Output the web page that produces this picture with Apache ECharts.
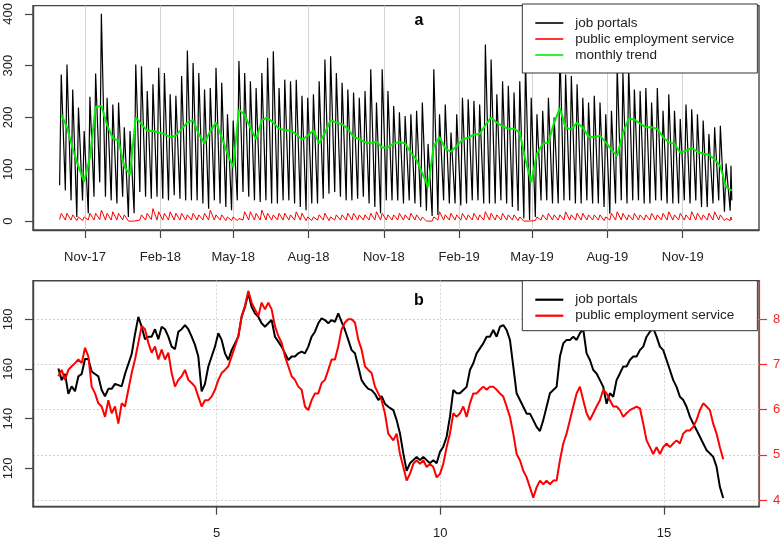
<!DOCTYPE html>
<html><head><meta charset="utf-8">
<script src="https://cdn.jsdelivr.net/npm/echarts@6/dist/echarts.min.js"></script>
<style>html,body{margin:0;padding:0;background:#fff}#c{width:784px;height:540px}</style>
</head><body><div id="c"></div>
<script>
// ---------- Panel a: daily postings (weekly peaks / troughs) ----------
const startDate = '2017-10-01';   // day 0 (a Sunday)
const endDay = 821;               // 2019-12-31
const tickDates = ['2017-11-01','2018-02-01','2018-05-01','2018-08-01','2018-11-01','2019-02-01','2019-05-01','2019-08-01','2019-11-01'];
const tickLabels = ['Nov-17','Feb-18','May-18','Aug-18','Nov-18','Feb-19','May-19','Aug-19','Nov-19'];
const yTicksA = [0,100,200,300,400];

const jobPeaks = [283,302,254,219,174,240,285,400,238,225, 229,181,174,302,299,251,264,296,286,245,
  242,280,329,305,286,254,257,296,267,206, 194,309,286,270,257,286,315,328,257,273,
  270,273,242,238,245,270,312,318,286,267, 254,248,238,251,293,229,293,251,222,210,
  203,206,213,229,149,293,206,225,171,206, 238,235,232,225,341,312,245,270,261,248,
  270,310,238,206,213,238,200,330,283,280, 264,238,229,242,229,206,213,300,286,300,
  254,251,257,229,257,213,245,213,197,225, 216,206,194,168,181,184,111,107];
const jobTroughs = [69,59,40,8,40,15,47,75,47,40, 34,47,8,15,56,47,43,47,43,40,
  50,43,40,40,40,34,24,40,34,27, 21,40,56,47,40,37,40,34,34,40,
  40,34,27,21,34,34,43,53,56,47, 40,40,43,47,34,27,15,40,40,40,
  34,40,34,27,20,10,12,40,34,34, 30,34,40,40,34,34,34,40,34,27,
  20,5,2,8,40,40,34,34,40,40, 34,34,40,34,34,27,14,34,40,34,
  40,40,34,34,40,40,34,34,34,40, 34,40,27,27,34,40,18,20];
const jobLast = 40;

const pesPeaks = [15,15,12,8,8,15,15,21,15,18, 15,12,2,3,12,15,24,18,15,18,
  15,15,12,15,12,15,21,12,12,8, 8,5,18,18,15,21,15,12,15,15,
  12,18,15,8,8,12,15,8,12,12, 15,15,12,12,15,18,15,12,12,15,
  12,15,12,8,3,8,18,12,15,12, 15,12,15,12,18,15,12,15,12,12,
  8,3,2,8,12,15,12,12,18,12, 15,15,12,12,12,8,15,18,15,12,
  15,12,12,15,12,15,18,12,15,12, 18,15,12,15,18,12,5,8];
const pesTroughs = [3,2,2,1,1,2,2,3,2,2, 2,2,0,0,2,2,3,2,2,2,
  2,2,2,2,2,2,2,2,2,1, 1,1,2,2,2,2,2,2,2,2,
  2,2,2,1,1,2,2,1,2,2, 2,2,2,2,2,2,2,2,2,2,
  2,2,2,1,0,0,2,2,2,2, 2,2,2,2,2,2,2,2,2,2,
  1,0,0,1,2,2,2,2,2,2, 2,2,2,2,2,1,2,2,2,2,
  2,2,2,2,2,2,2,2,2,2, 2,2,2,2,2,2,1,1];
const pesLast = 2;

const trend = [206,181,140,105,76,123,220,222,185,160, 155,105,90,200,187,174,174,171,168,162,
  165,178,190,195,168,150,174,190,162,130, 104,215,205,180,158,195,200,190,178,176,
  175,168,157,165,175,150,170,195,190,187, 178,163,158,152,150,153,142,142,150,152,
  150,132,118,92,66,145,162,140,134,145, 157,161,167,168,185,200,190,183,178,178,
  171,118,75,130,149,152,190,218,180,177, 190,180,163,162,165,152,138,126,170,198,
  196,188,181,181,178,162,152,149,132,136, 141,134,130,128,119,106,66,59];

// ---------- Panel b: smoothed series ----------
const xTicksB = [5,10,15];
const yTicksBLeft = [120,140,160,180];
const yTicksBRight = [4,5,6,7,8];
const bStep = 0.0745;
const bStart1 = 1.46, bStart2 = 8.874;
const jobSmooth1 = [160.2,155.5,158,150,153,151,157,158,164,164, 159,158,157,151.5,149,152,152,154,153.5,153,
  158,162,166,174,181,177,172,173,173,176, 172,177,176,173,169,168,175,176,177.7,176,
  173,169.7,165,151,154,161,165,169,174.4,171.7, 166.3,163.6,167.6,170.3,173,181,185,190.5,185,182.4,
  181,178.4,177,178.4,179.7,173,171,169,166.3,163.6, 165,165,166.3,167,166.3,169,173,175,178.4,180.4,
  179.7,178.4,179.7,179,182.4,179,175.7,171.7,167.6,166.3, 161,155.5,153.5,152,151.5,150,147.5,149,146,144.8];
const jobSmooth2 = [144.8,143.4,139.4,134,126,119,122,123.3,124.6,123.3, 124.6,123.3,122,123.3,122,126.6,128.7,132.7,140.8,151.5,
  150.2,150.2,151.5,152.8,159.6,162.3,166.3,168.3,170.3,173, 173,175.7,173,177,177.7,175.7,171.7,161,150.2,147.5,
  144.8,142,142,139.4,136.7,135,139.4,144.8,150.2,151.5, 152.8,165,170.3,171.7,171.7,173,171.7,174.4,176,166.3,
  163.6,159.6,158.2,155.5,152.8,146,150.2,148.8,155.5,158.2, 161,161,163.6,165,165,167.6,169,173,175,176.4,
  173,169,167.6,163.6,159.6,155.5,152.8,148.8,147.5,144.8, 140.8,138,135.4,132.7,130,127.3,126,124.6,120.6,112.5,
  108];
const pesSmooth1 = [6.74,6.88,6.66,6.88,6.96,7.03,7.11,7.03,7.37,7.18, 6.51,6.36,6.14,6.07,5.84,6.21,5.92,6.07,5.69,6.14,
  6.07,6.44,6.81,7.11,7.48,7.85,7.78,7.48,7.26,7.40, 7.11,7.33,7.11,7.26,6.81,6.51,6.66,6.74,6.88,6.66,
  6.59,6.51,6.29,6.07,6.21,6.21,6.29,6.44,6.66,6.81, 6.88,6.96,7.18,7.40,7.63,8.07,8.30,8.63,8.37,8.22,
  8.07,8.37,8.22,8.37,8.22,7.85,7.63,7.48,7.18,6.96, 6.74,6.66,6.51,6.44,6.07,5.99,6.21,6.36,6.36,6.59,
  6.66,6.88,7.11,7.11,7.40,7.78,7.93,8.00,8.00,7.93, 7.55,7.33,6.96,6.88,6.81,6.51,6.36,6.21,5.92,5.47];
const pesSmooth2 = [5.47,5.32,5.47,5.02,4.73,4.43,4.58,4.80,4.88,4.80, 4.88,4.73,4.80,4.73,4.50,4.58,4.80,5.17,5.47,5.92,
  5.84,5.92,6.07,5.84,6.14,6.36,6.36,6.44,6.51,6.44, 6.51,6.51,6.44,6.36,6.29,6.07,5.84,5.47,5.02,4.88,
  4.65,4.50,4.28,4.05,4.28,4.43,4.35,4.43,4.35,4.43, 4.43,4.88,5.25,5.47,5.77,6.07,6.36,6.51,6.21,5.92,
  5.77,5.92,6.07,6.21,6.44,6.36,6.21,6.07,6.07,5.99, 5.84,5.92,5.99,6.03,6.07,6.03,5.69,5.32,5.17,5.02,
  5.17,5.02,5.17,5.25,5.17,5.25,5.32,5.25,5.47,5.54, 5.54,5.62,5.77,5.99,6.14,6.07,5.99,5.69,5.47,5.17,
  4.90];

// ---------- build ----------
function dayIndex(s){ return Math.round((Date.parse(s) - Date.parse(startDate)) / 86400000); }
const tickDays = tickDates.map(dayIndex);
const labelOf = {}; tickDays.forEach((d,i)=>{ labelOf[d] = tickLabels[i]; });
function weekly(troughs, peaks, last){
  const pts = [];
  for (let i = 0; i < peaks.length; i++){
    pts.push([7*i, troughs[i]]);
    pts.push([Math.min(7*i+2, endDay-1), peaks[i]]);
  }
  pts.push([endDay, last]);
  return pts;
}
const jobDaily = weekly(jobTroughs, jobPeaks, jobLast);
const pesDaily = weekly(pesTroughs, pesPeaks, pesLast);
const trendPts = trend.map((v,i)=>[Math.min(7*i+2, endDay), v]);
function seg(start, arr){ return arr.map((v,i)=>[+(start + i*bStep).toFixed(4), v]); }
const jobB = seg(bStart1, jobSmooth1).concat(seg(bStart2, jobSmooth2));
const pesB = seg(bStart1, pesSmooth1).concat(seg(bStart2, pesSmooth2));

const FONT = 'Liberation Sans, Arial, sans-serif';
const FRAME = '#444';
const lbl = {fontFamily: FONT, fontSize: 13, color: '#222'};

const chart = echarts.init(document.getElementById('c'), null, {renderer: 'canvas'});
chart.setOption({
  animation: false,
  backgroundColor: '#fff',
  grid: [
    {left: 33, top: 4, width: 726, height: 226, show: true, borderColor: FRAME, borderWidth: 1.4, backgroundColor: 'transparent'},
    {left: 33, top: 280.7, width: 726, height: 226, show: true, borderColor: FRAME, borderWidth: 1.4, backgroundColor: 'transparent'}
  ],
  xAxis: [
    {type: 'value', gridIndex: 0, min: -32.5, max: 854.2,
     axisLine: {show: true, onZero: false, lineStyle: {color: FRAME, width: 1.4}},
     axisTick: {show: true, customValues: tickDays, length: 8, lineStyle: {color: FRAME, width: 1.2}},
     axisLabel: Object.assign({customValues: tickDays, margin: 21, formatter: v => labelOf[v] || ''}, lbl),
     splitLine: {show: true, lineStyle: {color: '#d3d3d3', width: 1}}},
    {type: 'value', gridIndex: 1, min: 0.893, max: 17.124,
     axisLine: {show: true, onZero: false, lineStyle: {color: FRAME, width: 1.4}},
     axisTick: {show: true, customValues: xTicksB, length: 8, lineStyle: {color: FRAME, width: 1.2}},
     axisLabel: Object.assign({customValues: xTicksB, margin: 20}, lbl),
     splitLine: {show: true, lineStyle: {color: '#d0d0d0', width: 1, type: [2, 2]}}}
  ],
  yAxis: [
    {type: 'value', gridIndex: 0, min: -17.2, max: 415.9,
     axisLine: {show: true, onZero: false, lineStyle: {color: FRAME, width: 1.4}},
     axisTick: {show: true, customValues: yTicksA, length: 8, lineStyle: {color: FRAME, width: 1.2}},
     axisLabel: Object.assign({customValues: yTicksA, rotate: 90, margin: 18}, lbl),
     splitLine: {show: false}},
    {type: 'value', gridIndex: 1, min: 104.53, max: 195.55, position: 'left',
     axisLine: {show: true, onZero: false, lineStyle: {color: FRAME, width: 1.4}},
     axisTick: {show: true, customValues: yTicksBLeft, length: 8, lineStyle: {color: FRAME, width: 1.2}},
     axisLabel: Object.assign({customValues: yTicksBLeft, rotate: 90, margin: 18}, lbl),
     splitLine: {show: false}},
    {type: 'value', gridIndex: 1, min: 3.852, max: 8.855, position: 'right',
     axisLine: {show: true, onZero: false, lineStyle: {color: '#ff2020', width: 1.2}},
     axisTick: {show: true, customValues: yTicksBRight, length: 8, lineStyle: {color: '#ff2020', width: 1.2}},
     axisLabel: Object.assign({}, lbl, {customValues: yTicksBRight, margin: 14, color: '#ff2020'}),
     splitLine: {show: true, lineStyle: {color: '#d0d0d0', width: 1, type: [2, 2]}}}
  ],
  legend: [
    {left: 522.3, top: 4, orient: 'vertical', data: ['job portals', 'public employment service', 'monthly trend'],
     icon: 'rect', itemWidth: 28, itemHeight: 1.6, itemGap: 0, padding: [11, 23, 10, 13],
     borderColor: '#333', borderWidth: 1, backgroundColor: '#fff', borderRadius: 0,
     selectedMode: false,
     textStyle: {fontFamily: FONT, fontSize: 13.5, color: '#222', lineHeight: 16, padding: [0, 0, 0, 7]}},
    {left: 522.3, top: 280.7, orient: 'vertical', data: ['job portals', 'public employment service'],
     icon: 'rect', itemWidth: 28, itemHeight: 2.2, itemGap: 0, padding: [11, 23, 7, 13],
     borderColor: '#333', borderWidth: 1, backgroundColor: '#fff', borderRadius: 0,
     selectedMode: false,
     textStyle: {fontFamily: FONT, fontSize: 13.5, color: '#222', lineHeight: 16, padding: [0, 0, 0, 7]}}
  ],
  graphic: [
    {type: 'text', x: 419, y: 20.5, z: 100, style: {text: 'a', font: 'bold 16px ' + FONT, textAlign: 'center', textVerticalAlign: 'middle', fill: '#000'}},
    {type: 'text', x: 419, y: 300.5, z: 100, style: {text: 'b', font: 'bold 16px ' + FONT, textAlign: 'center', textVerticalAlign: 'middle', fill: '#000'}}
  ],
  series: [
    {name: 'job portals', type: 'line', xAxisIndex: 0, yAxisIndex: 0, data: jobDaily, symbol: 'none', showSymbol: false,
     lineStyle: {color: '#000', width: 1.2}, itemStyle: {color: '#000'}, z: 2},
    {name: 'public employment service', type: 'line', xAxisIndex: 0, yAxisIndex: 0, data: pesDaily, symbol: 'none', showSymbol: false,
     lineStyle: {color: '#ff0000', width: 1}, itemStyle: {color: '#ff0000'}, z: 3},
    {name: 'monthly trend', type: 'line', xAxisIndex: 0, yAxisIndex: 0, data: trendPts, symbol: 'none', showSymbol: false,
     lineStyle: {color: '#00ee00', width: 2}, itemStyle: {color: '#00ee00'}, z: 4},
    {name: 'job portals', type: 'line', xAxisIndex: 1, yAxisIndex: 1, data: jobB, symbol: 'none', showSymbol: false,
     lineStyle: {color: '#000', width: 2}, itemStyle: {color: '#000'}, z: 2},
    {name: 'public employment service', type: 'line', xAxisIndex: 1, yAxisIndex: 2, data: pesB, symbol: 'none', showSymbol: false,
     lineStyle: {color: '#ff0000', width: 2}, itemStyle: {color: '#ff0000'}, z: 3}
  ]
});
</script></body></html>
